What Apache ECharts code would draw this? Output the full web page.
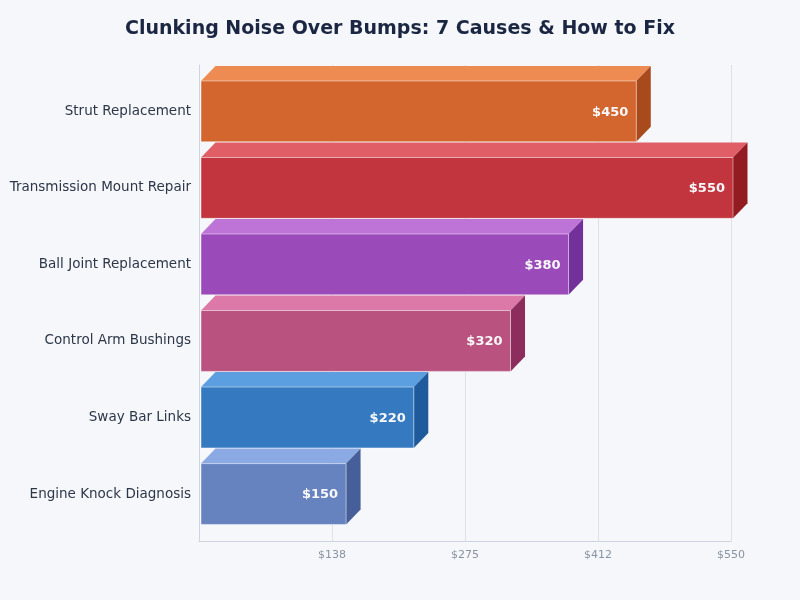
<!DOCTYPE html>
<html>
<head>
<meta charset="utf-8">
<script src="https://cdn.jsdelivr.net/npm/echarts@6/dist/echarts.min.js"></script>
<style>
html,body{margin:0;padding:0;background:#f5f7fb;}
#chart{width:800px;height:600px;}
</style>
</head>
<body>
<div id="chart"></div>
<script>
// ---- data ----
const categories = ["Strut Replacement", "Transmission Mount Repair", "Ball Joint Replacement", "Control Arm Bushings", "Sway Bar Links", "Engine Knock Diagnosis"];
const costs = [450, 550, 380, 320, 220, 150];
const tickValues = [137.5, 275, 412.5, 550];
const tickLabels = ["$138", "$275", "$412", "$550"];

// ---- styles ----
const frontColors = ["#D2662E", "#C2353E", "#9A4BB9", "#B9527F", "#3579C0", "#6783BF"];
const topColors   = ["#EE8B52", "#E05F67", "#BE74D7", "#DC79A8", "#5C9FE0", "#8BA9E2"];
const sideColors  = ["#A84A1C", "#931C22", "#73309A", "#8C2D5E", "#1F5A9C", "#465F9A"];

const chart = echarts.init(document.getElementById('chart'));
const FONT = "DejaVu Sans";

const option = {
  backgroundColor: "#f5f7fb",
  animation: false,
  title: {
    text: "Clunking Noise Over Bumps: 7 Causes & How to Fix",
    left: "center",
    top: 15,
    textStyle: { fontFamily: FONT, fontSize: 19, fontWeight: "bold", color: "#1b2742" }
  },
  grid: [
    { left: 199, right: 69, top: 65, bottom: 59 },
    { left: 199, right: 69, top: 73.1, bottom: 67.7 }
  ],
  xAxis: [
    {
      gridIndex: 0, type: "value", min: 0, max: 550, interval: 137.5,
      axisLine: { show: true, lineStyle: { color: "#cfd5de", width: 1 } },
      axisTick: { show: false },
      splitLine: { show: true, lineStyle: { color: "#dde1e8", width: 1 } },
      axisLabel: {
        fontFamily: FONT, fontSize: 11, color: "#8a93a3", margin: 9,
        formatter: function (v) {
          const i = tickValues.indexOf(v);
          return i >= 0 ? tickLabels[i] : "";
        }
      }
    },
    {
      gridIndex: 1, type: "value", min: 0, max: 550,
      show: false
    }
  ],
  yAxis: [
    {
      gridIndex: 0, type: "value", min: 0, max: 1,
      axisLine: { show: true, lineStyle: { color: "#cfd5de", width: 1 } },
      axisTick: { show: false }, axisLabel: { show: false }, splitLine: { show: false }
    },
    {
      gridIndex: 1, type: "category", data: categories, inverse: true,
      axisLine: { show: false }, axisTick: { show: false }, splitLine: { show: false },
      axisLabel: { fontFamily: FONT, fontSize: 13.5, color: "#2d3748", margin: 8 }
    }
  ],
  series: [{
    type: "custom",
    xAxisIndex: 1, yAxisIndex: 1,
    clip: false,
    data: costs.map((v, i) => [v, i]),
    renderItem: function (params, api) {
      const val = api.value(0);
      const idx = api.value(1);
      const p0 = api.coord([0, idx]);
      const p1 = api.coord([val, idx]);
      const band = api.size([0, 1])[1];
      const h = band * 0.795;
      const dx = 14.5, dy = 15;
      const x0 = p0[0] + 2, x1 = p1[0] + 2;
      const yT = p0[1] - h / 2, yB = p0[1] + h / 2;
      return {
        type: "group",
        children: [
          {
            type: "polygon",
            shape: { points: [[x0, yT], [x1, yT], [x1 + dx, yT - dy], [x0 + dx, yT - dy]] },
            style: { fill: topColors[idx] }
          },
          {
            type: "polygon",
            shape: { points: [[x1, yT], [x1 + dx, yT - dy], [x1 + dx, yB - dy], [x1, yB]] },
            style: { fill: sideColors[idx] }
          },
          {
            type: "rect",
            shape: { x: x0, y: yT, width: x1 - x0, height: yB - yT },
            style: { fill: frontColors[idx], stroke: "rgba(255,255,255,0.45)", lineWidth: 1 }
          },
          {
            type: "text",
            style: {
              text: "$" + val,
              x: x1 - 8, y: p0[1] + 1,
              align: "right", verticalAlign: "middle",
              fill: "#f8f8fa",
              font: "bold 13px '" + FONT + "'"
            }
          }
        ]
      };
    }
  }]
};
chart.setOption(option);
</script>
</body>
</html>
